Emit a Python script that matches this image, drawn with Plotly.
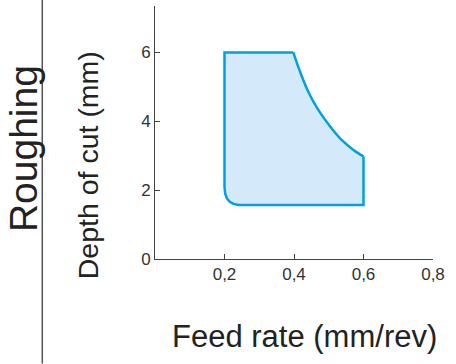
import plotly.graph_objects as go

# Boundary of the roughing region (feed rate mm/rev, depth of cut mm)
feed = [0.200, 0.398, 0.417, 0.441, 0.470, 0.504, 0.537, 0.571, 0.600,
        0.600, 0.240, 0.226, 0.215, 0.207, 0.202, 0.200, 0.200]
depth = [6.00, 6.00, 5.45, 4.86, 4.33, 3.85, 3.46, 3.17, 2.98,
         1.57, 1.57, 1.60, 1.66, 1.76, 1.90, 2.10, 6.00]
CURVE = slice(1, 9)  # the curved upper-right edge

x_ticks = [0.2, 0.4, 0.6, 0.8]
x_tick_text = ["0,2", "0,4", "0,6", "0,8"]
y_ticks = [0, 2, 4, 6]
y_tick_text = ["0", "2", "4", "6"]

W, H = 456, 364
L, R, T, B = 155.4, 23.4, 6, 104.7
pw, ph = W - L - R, H - T - B

def px(x):
    return (x - L) / pw

def py(y):
    return (H - B - y) / ph

BLUE = "rgb(0,160,225)"
fig = go.Figure()
fig.add_trace(go.Scatter(
    x=feed, y=depth, mode="lines", fill="toself",
    fillcolor="rgb(212,234,250)",
    line=dict(color="rgba(0,0,0,0)", width=0),
    hoverinfo="skip", showlegend=False,
))
# straight edges
straight_x = feed[8:] + feed[0:2]
straight_y = depth[8:] + depth[0:2]
fig.add_trace(go.Scatter(
    x=straight_x, y=straight_y, mode="lines",
    line=dict(color=BLUE, width=2.5), hoverinfo="skip", showlegend=False,
))
# curved edge
fig.add_trace(go.Scatter(
    x=feed[CURVE], y=depth[CURVE], mode="lines",
    line=dict(color=BLUE, width=2.5, shape="spline", smoothing=1.0),
    hoverinfo="skip", showlegend=False,
))

font = "Liberation Sans, Arial, sans-serif"
fig.update_layout(
    width=W, height=H,
    margin=dict(l=L, r=R, t=T, b=B, pad=0),
    paper_bgcolor="white", plot_bgcolor="white",
    font=dict(family=font, color="#333"),
    xaxis=dict(range=[0, 0.8], tickvals=x_ticks, ticktext=x_tick_text,
               ticks="inside", ticklen=5, tickcolor="#444", tickwidth=1,
               showline=True, linecolor="#444", linewidth=1,
               showgrid=False, zeroline=False,
               tickfont=dict(size=17, color="#333")),
    yaxis=dict(range=[0, 7.35], tickvals=y_ticks, ticktext=y_tick_text,
               ticks="inside", ticklen=5, tickcolor="#444", tickwidth=1,
               showline=True, linecolor="#444", linewidth=1,
               showgrid=False, zeroline=False,
               tickfont=dict(size=17, color="#333")),
    shapes=[dict(type="line", xref="paper", yref="paper",
                 x0=px(43), x1=px(43), y0=py(0), y1=py(364),
                 line=dict(color="#555", width=1.5))],
    annotations=[
        dict(text="Feed rate (mm/rev)", xref="paper", yref="paper",
             x=px(304), y=py(337), showarrow=False,
             font=dict(size=31, color="#222"), xanchor="center", yanchor="middle"),
        dict(text="Depth of cut (mm)", xref="paper", yref="paper",
             x=px(88), y=py(165), showarrow=False, textangle=-90,
             font=dict(size=28.5, color="#222"), xanchor="center", yanchor="middle"),
        dict(text="Roughing", xref="paper", yref="paper",
             x=px(25), y=py(149), showarrow=False, textangle=-90,
             font=dict(size=39, color="#222"), xanchor="center", yanchor="middle"),
    ],
)

fig.write_html("out.html",
               config={"displayModeBar": False, "staticPlot": True},
               post_script="document.body.style.margin='0';")
